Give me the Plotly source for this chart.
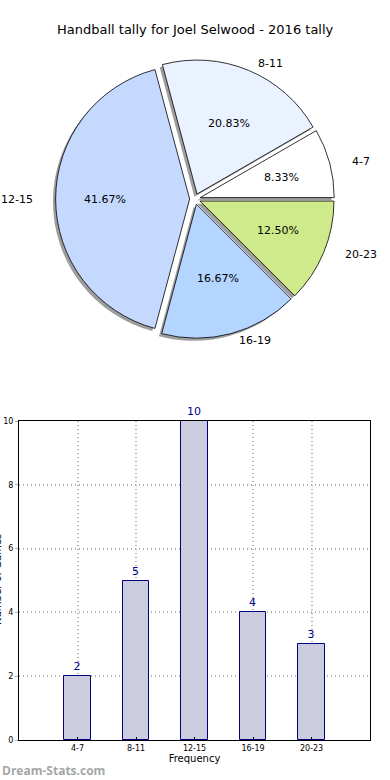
import math
import plotly.graph_objects as go

# ---------------- data ----------------
title = "Handball tally for Joel Selwood - 2016 tally"
categories = ["4-7", "8-11", "12-15", "16-19", "20-23"]
counts = [2, 5, 10, 4, 3]
pie_colors = ["#ffffff", "#eaf2ff", "#c5d9ff", "#b4d5ff", "#cfea8b"]
y_ticks = [0, 2, 4, 6, 8, 10]
x_title = "Frequency"
y_title = "Number of Games"
watermark = "Dream-Stats.com"

# ---------------- geometry (pixels) ----------------
W, H = 390, 780
cx, cy = 195, 199
R = 134            # pie radius (circle)
Rx, Ry = 141, 128  # label placement radii (reference pie is slightly elliptical)
pull = 0.04
shadow_off = 0.02 * R

def px(x):
    return x / W

def py(y):
    return 1 - y / H

half = R * (1 + pull)
total = sum(counts)
# plotly's counterclockwise pies end the first slice at `rotation`;
# shift so the first slice starts at 3 o'clock like matplotlib
rot = 90 - 360 * counts[0] / total

fig = go.Figure()

# shadow pie
fig.add_trace(go.Pie(
    values=counts, labels=categories, sort=False,
    direction="counterclockwise", rotation=rot,
    pull=[pull] * len(counts),
    marker=dict(colors=["rgba(60,60,60,0.5)"] * len(counts), line=dict(width=0)),
    textinfo="none", hoverinfo="skip", showlegend=False,
    domain=dict(x=[px(cx - shadow_off - half), px(cx - shadow_off + half)],
                y=[py(cy + shadow_off + half), py(cy + shadow_off - half)]),
))
# main pie
fig.add_trace(go.Pie(
    values=counts, labels=categories, sort=False,
    direction="counterclockwise", rotation=rot,
    pull=[pull] * len(counts),
    marker=dict(colors=pie_colors, line=dict(color="#000000", width=0.8)),
    textinfo="none", showlegend=False,
    domain=dict(x=[px(cx - half), px(cx + half)],
                y=[py(cy + half), py(cy - half)]),
))

annotations = []
start = 0.0
for cat, v in zip(categories, counts):
    frac = v / total
    mid = math.radians((start + frac / 2) * 360)
    start += frac
    ox = cx + pull * R * math.cos(mid)
    oy = cy - pull * R * math.sin(mid)
    # percent
    annotations.append(dict(
        x=px(ox + 0.6 * Rx * math.cos(mid)), y=py(oy - 0.6 * Ry * math.sin(mid)),
        xref="paper", yref="paper", text="%.2f%%" % (frac * 100), showarrow=False,
        font=dict(family="DejaVu Sans", size=11, color="#000000"),
        xanchor="center", yanchor="middle"))
    lx = ox + 1.1 * Rx * math.cos(mid)
    ly = oy - 1.1 * Ry * math.sin(mid)
    annotations.append(dict(
        x=px(lx), y=py(ly), xref="paper", yref="paper", text=cat, showarrow=False,
        font=dict(family="DejaVu Sans", size=11, color="#000000"),
        xanchor="left" if math.cos(mid) > 0 else "right", yanchor="middle"))

# bar chart
fig.add_trace(go.Bar(
    x=categories, y=counts, width=0.45,
    marker=dict(color="#ccccdf", line=dict(color="#000080", width=1)),
    text=[str(c) for c in counts], textposition="outside", cliponaxis=False,
    textfont=dict(family="DejaVu Sans", size=11, color="#00008b"),
    showlegend=False, xaxis="x", yaxis="y",
))

annotations.append(dict(
    x=px(cx), y=py(30), xref="paper", yref="paper", text=title, showarrow=False,
    font=dict(family="DejaVu Sans", size=13, color="#000000"),
    xanchor="center", yanchor="middle"))
annotations.append(dict(
    x=px(-3), y=py(580), xref="paper", yref="paper", text=y_title, showarrow=False,
    textangle=-90, font=dict(family="DejaVu Sans", size=10, color="#000000"),
    xanchor="center", yanchor="middle"))
annotations.append(dict(
    x=px(0), y=py(770), xref="paper", yref="paper", text="<b>" + watermark + "</b>",
    showarrow=False, font=dict(family="Open Sans", size=12, color="#a6a6a6"),
    xanchor="left", yanchor="middle"))

grid_dash = "1px,3px"
fig.update_layout(
    width=W, height=H,
    margin=dict(l=0, r=0, t=0, b=0),
    paper_bgcolor="#ffffff", plot_bgcolor="#ffffff",
    annotations=annotations,
    bargap=0,
    xaxis=dict(
        domain=[px(19), px(370)], anchor="y", range=[-1, 5],
        showline=True, mirror=True, linecolor="#000000", linewidth=1,
        showgrid=True, gridcolor="#b0b0b0", griddash=grid_dash, gridwidth=1.5,
        ticks="inside", ticklen=3, tickcolor="#000000",
        tickfont=dict(family="DejaVu Sans", size=8, color="#000000"),
        title=dict(text=x_title, font=dict(family="DejaVu Sans", size=10, color="#000000"), standoff=2),
        automargin=False, zeroline=False, fixedrange=True,
    ),
    yaxis=dict(
        domain=[py(740), py(421)], anchor="x", range=[0, 10],
        tickvals=y_ticks,
        showline=True, mirror=True, linecolor="#000000", linewidth=1,
        showgrid=True, gridcolor="#b0b0b0", griddash=grid_dash, gridwidth=1.5,
        ticks="outside", ticklen=3, tickcolor="#b0b0b0",
        tickfont=dict(family="DejaVu Sans", size=8, color="#000000"),
        automargin=False, zeroline=False, fixedrange=True,
    ),
)

fig.write_html("out.html", post_script="document.body.style.margin='0';",
               config={"displayModeBar": False})
